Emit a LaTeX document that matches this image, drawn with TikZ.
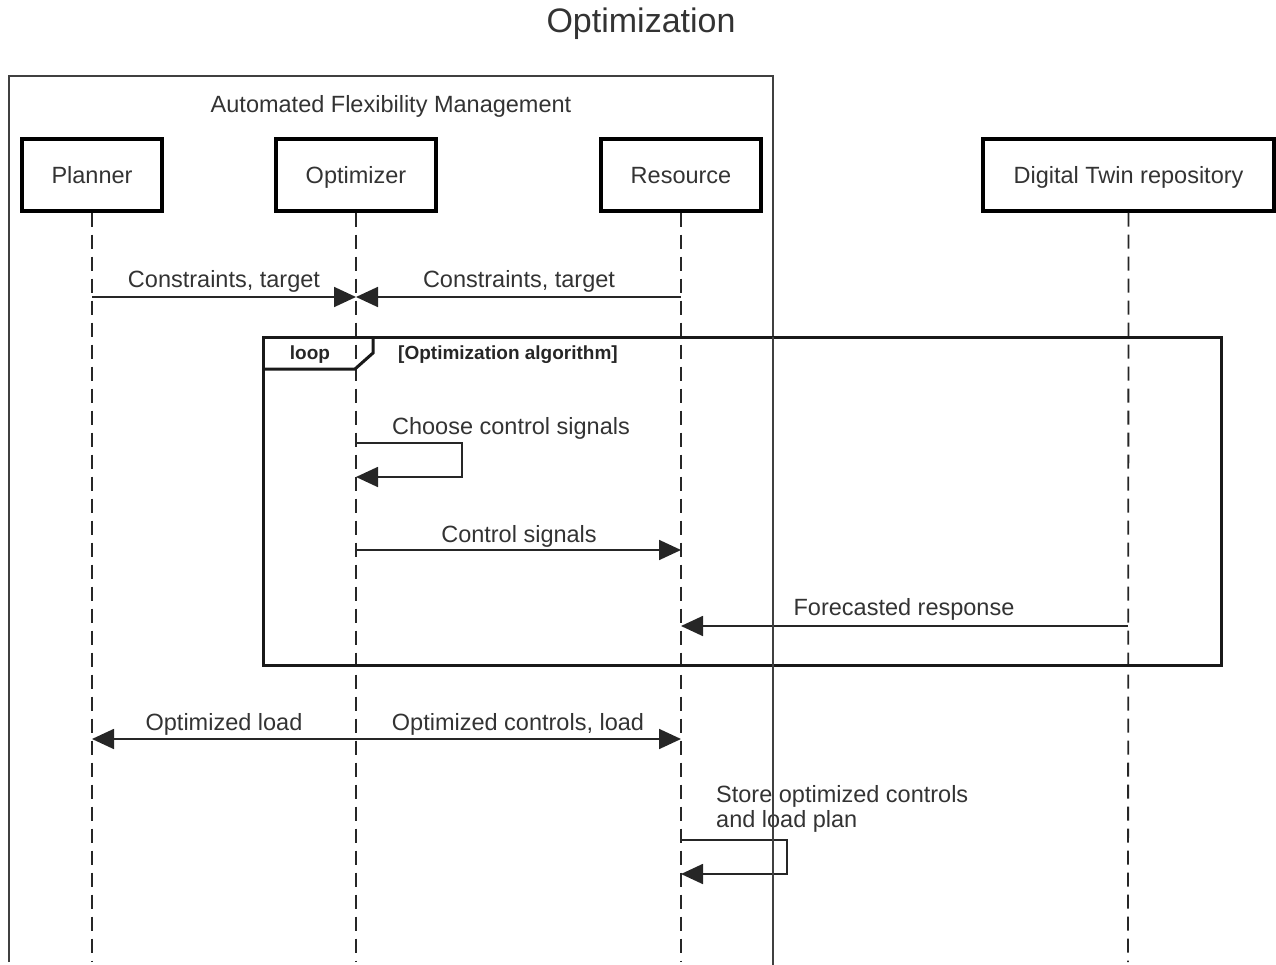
\documentclass[tikz,border=0pt]{standalone}
\usepackage{fontspec}
\setmainfont{Liberation Sans}
\usetikzlibrary{arrows.meta}
\begin{document}
\begin{tikzpicture}[x=1pt,y=-1pt,
  actor/.style={draw=black,line width=3.2pt,minimum width=140pt,minimum height=72pt,inner sep=0pt,
    text height=18pt,text depth=0pt,font=\fontsize{23.5}{28}\selectfont,text=black!80},
  life/.style={draw=black!85,line width=1.8pt,dash pattern=on 14pt off 8pt},
  msg/.style={draw=black!85,line width=1.8pt,-{Triangle[length=22pt,width=20pt]}},
  lbl/.style={font=\fontsize{23.5}{28}\selectfont,text=black!80,inner sep=0pt,anchor=base},
  tag/.style={font=\bfseries\fontsize{19}{22}\selectfont,text=black!85,inner sep=0pt,anchor=base},
  frame/.style={draw=black!90,line width=3pt},
  pkgline/.style={draw=black!75,line width=2pt}
]
\useasboundingbox (0,0) rectangle (1276,965);

% title and the outer package box
\node[lbl,font=\fontsize{34}{40}\selectfont] (title) at (641,33) {Optimization};
\draw[pkgline] (9,962) -- (9,76) -- (773,76) -- (773,337);
\node[lbl] (pkg) at (391,113) {Automated Flexibility Management};

% participants
\node[actor] (planner) at (92,175) {Planner};
\node[actor,minimum width=160pt] (optimizer) at (356,175) {Optimizer};
\node[actor,minimum width=160pt] (resource) at (681,175) {Resource};
\node[actor,minimum width=291pt] (twin) at (1128.5,175) {Digital Twin repository};

% lifeline ends
\coordinate (planner-end) at (92,962);
\coordinate (optimizer-end) at (356,962);
\coordinate (resource-end) at (681,962);
\coordinate (twin-end) at (1128,962);
\draw[life] (planner.south) -- (planner-end);
\draw[life] (optimizer.south) -- (optimizer-end);
\draw[life] (resource.south) -- (resource-end);
\draw[life] (twin.south) -- (twin-end);

% message anchor points on the lifelines
\coordinate (p1) at (92,297);
\coordinate (o1) at (356,297);
\coordinate (r1) at (681,297);
\coordinate (o2) at (356,443);
\coordinate (s2a) at (462,443);
\coordinate (s2b) at (462,477);
\coordinate (o2b) at (356,477);
\coordinate (o3) at (356,550);
\coordinate (r3) at (681,550);
\coordinate (r4) at (681,626);
\coordinate (t4) at (1128,626);
\coordinate (p5) at (92,739);
\coordinate (o5) at (356,739);
\coordinate (r5) at (681,739);
\coordinate (r6) at (681,840);
\coordinate (s6a) at (787,840);
\coordinate (s6b) at (787,874);
\coordinate (r6b) at (681,874);

% loop combined fragment
\draw[frame] (263,337) rectangle (1221,665);
\draw[frame,line join=miter] (263,369) -- (355,369) -- (373,353) -- (373,337);
\node[tag] (looptag) at (310,359) {loop};
\node[tag] (guard) at (508,359) {[Optimization algorithm]};

% messages
\draw[msg] (p1) -- (o1);
\node[lbl] (m1) at (224,288) {Constraints, target};
\draw[msg] (r1) -- (o1);
\node[lbl] (m2) at (519,288) {Constraints, target};

\draw[msg] (o2) -- (s2a) -- (s2b) -- (o2b);
\node[lbl] (m3) at (511,434) {Choose control signals};

\draw[msg] (o3) -- (r3);
\node[lbl] (m4) at (519,542) {Control signals};

\draw[msg] (t4) -- (r4);
\node[lbl] (m5) at (904,615) {Forecasted response};

\draw[msg] (o5) -- (p5);
\node[lbl] (m6) at (224,730) {Optimized load};
\draw[msg] (o5) -- (r5);
\node[lbl] (m7) at (518,730) {Optimized controls, load};

\draw[msg] (r6) -- (s6a) -- (s6b) -- (r6b);
\node[lbl,anchor=base west] (m8a) at (716,802) {Store optimized controls};
\node[lbl,anchor=base west] (m8b) at (716,827) {and load plan};

% package border, continuing over the fragment
\draw[pkgline] (773,337) -- (773,965);
\end{tikzpicture}
\end{document}
